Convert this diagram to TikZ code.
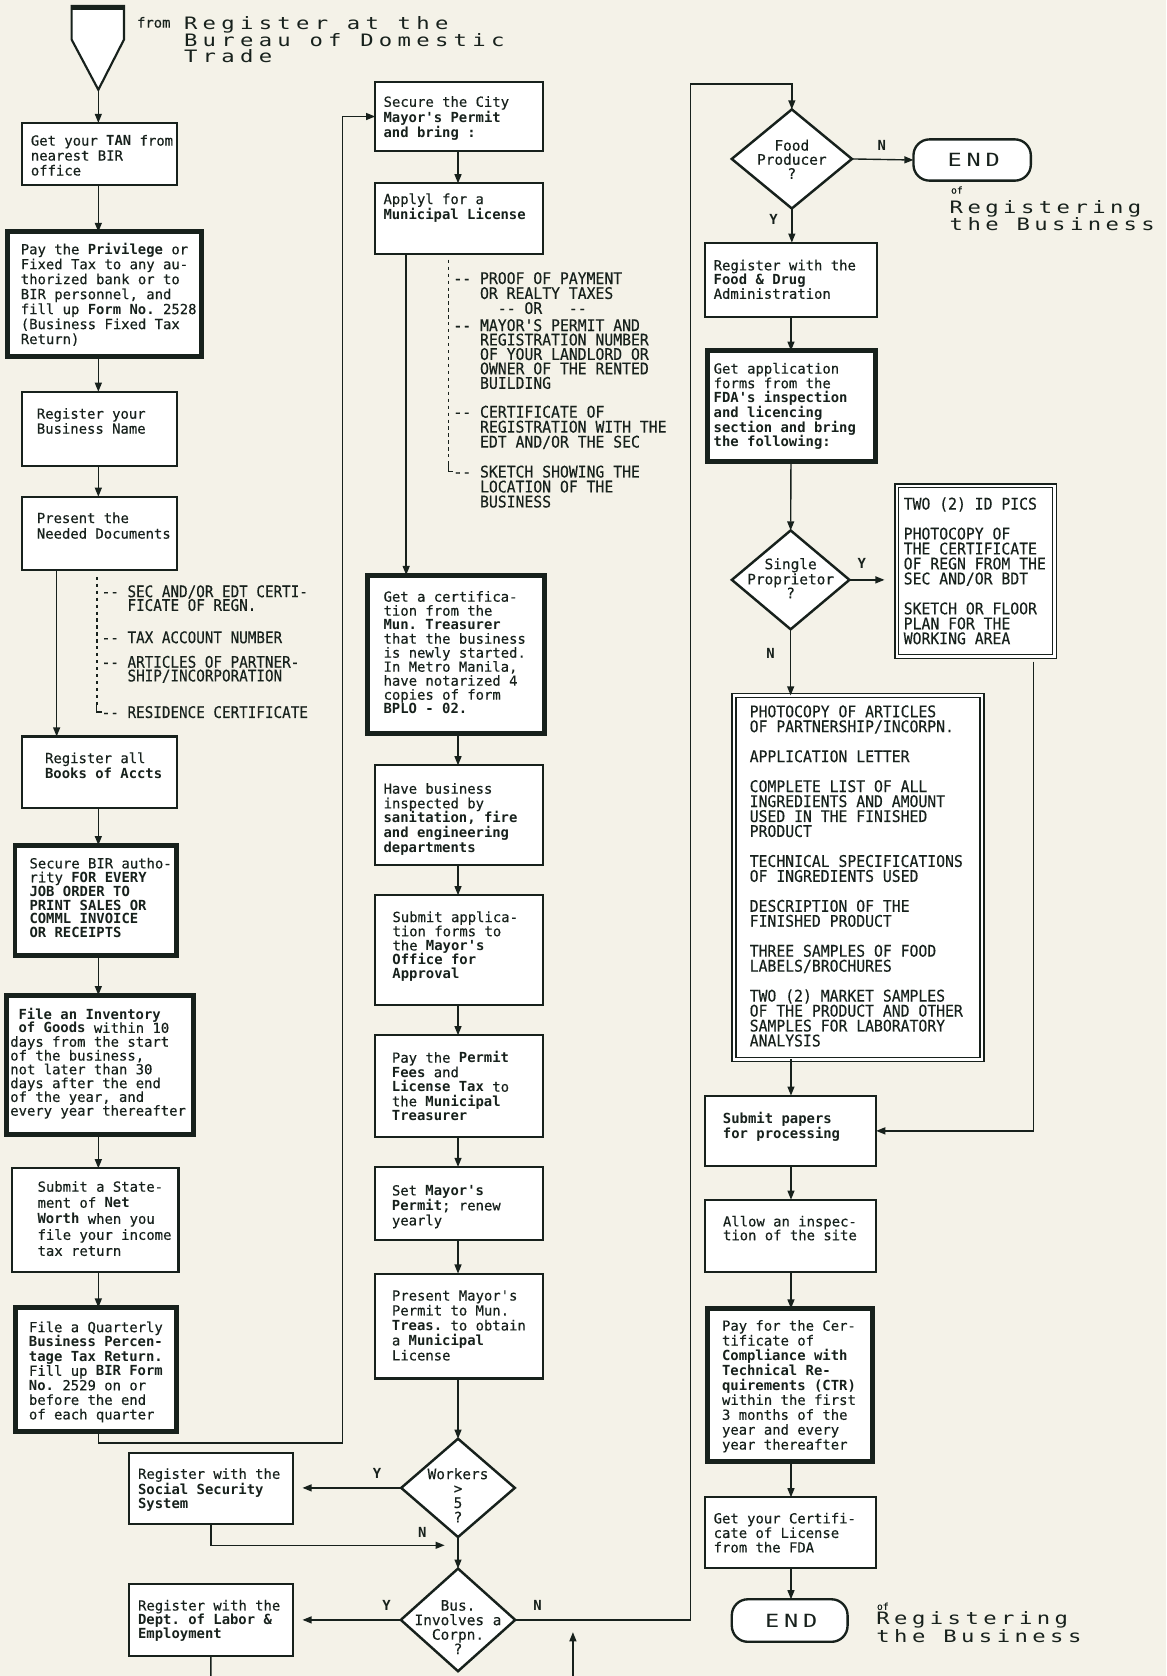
\documentclass[tikz,border=0pt]{standalone}
\usepackage{fontspec}
\setmonofont[UprightFeatures={FakeBold=0.35}]{DejaVu Sans Mono}
\newfontfamily\widef[FakeStretch=1.3,LetterSpace=31]{DejaVu Sans Mono}
\newfontfamily\wideg[FakeStretch=1.3,LetterSpace=26]{DejaVu Sans Mono}
\usetikzlibrary{arrows.meta,shapes.geometric,fit}
\definecolor{ink}{HTML}{17211C}
\definecolor{paper}{HTML}{F4F2E8}
\newcommand\dd{-\kern0pt-}
\newcommand\stra{\rule{0pt}{10pt}}
\newcommand\strb{\rule{0pt}{11.5pt}}
\newcommand\strc{\rule{0pt}{10.3pt}}
\newcommand\strw{\rule{0pt}{12.3pt}}
\newcommand\ind{\hphantom{AAA}}
\tikzset{
 bx/.style={draw=ink, fill=white, line width=2pt, inner sep=0pt, outer sep=0pt},
 tbx/.style={bx, line width=4.6pt},
 dbx/.style={draw=ink, double=white, double distance=2.4pt, line width=1.3pt, fill=white, inner sep=0pt, outer sep=0pt},
 dia/.style={diamond, draw=ink, fill=white, line width=2.3pt, inner sep=0pt, outer sep=0pt},
 term/.style={draw=ink, fill=white, line width=2.2pt, rounded corners=15pt, inner sep=0pt, outer sep=0pt},
 arr/.style={draw=ink, line width=1.3pt, -{Triangle[length=8.5pt,width=6.5pt]}},
 ln/.style={draw=ink, line width=1.3pt},
 dl/.style={draw=ink, line width=1.6pt, dash pattern=on 3pt off 3.5pt},
 tx/.style={font=\ttfamily\fontsize{13}{#1}\selectfont, text=ink, align=left, inner sep=0pt, anchor=north west},
 tx/.default=13.8,
 lstA/.style={font=\ttfamily\addfontfeatures{FakeStretch=0.89}\fontsize{15}{#1}\selectfont, text=ink, align=left, inner sep=0pt, anchor=north west},
 lstB/.style={font=\ttfamily\addfontfeatures{FakeStretch=0.92}\fontsize{15}{#1}\selectfont, text=ink, align=left, inner sep=0pt, anchor=north west},
 dtx/.style={font=\ttfamily\fontsize{13.5}{#1}\selectfont, text=ink, align=center, inner sep=0pt, anchor=north},
 wtx/.style={font=\widef\fontsize{16}{#1}\selectfont, text=ink, align=left, inner sep=0pt, anchor=north west},
 wtx/.default=14.7,
 wtg/.style={font=\wideg\fontsize{16}{#1}\selectfont, text=ink, align=left, inner sep=0pt, anchor=north west},
 endt/.style={font=\wideg\fontsize{17}{17}\selectfont, text=ink, inner sep=0pt},
 oft/.style={font=\ttfamily\fontsize{9}{9}\selectfont, text=ink, inner sep=0pt, anchor=west},
 lab/.style={font=\ttfamily\bfseries\fontsize{13}{13}\selectfont, text=ink, inner sep=0pt}
}
\begin{document}
\begin{tikzpicture}[x=1pt,y=-1pt]
\useasboundingbox (0,0) rectangle (1091,1568);
\fill[paper] (0,0) rectangle (1091,1568);

% ---------- start connector and title ----------
\draw[draw=ink, fill=white, line width=2pt, line join=miter] (67,5.6) -- (116,5.6) -- (116,37) -- (92,84) -- (67,37) -- cycle;
\draw[ink, line width=4.5pt] (66,6.8) -- (117,6.8);
\coordinate (start) at (92,84);
\node[tx, anchor=base west] (from) at (128,25.8) {from};
\node[wtx] (title) at (172,14.8) {\strw Register at the\\Bureau of Domestic\\Trade};

% ---------- left column ----------
\coordinate (lc) at (92,0);
\coordinate (c2) at (53,0);
\node[bx, fit={(20.3,115) (165.5,173)}] (b1) {};
\node[tx=14] (t1) at (28.7,126) {\stra Get your \textbf{TAN} from\\nearest BIR\\office};
\node[tbx, fit={(7,217) (188.7,333.7)}] (b2) {};
\node[tx=14] (t2) at (19.3,227.1) {\stra Pay the \textbf{Privilege} or\\Fixed Tax to any au-\\thorized bank or to\\BIR personnel, and\\fill up \textbf{Form No.} 2528\\(Business Fixed Tax\\Return)};
\node[bx, fit={(20.3,366.5) (165.3,436)}] (b3) {};
\node[tx=14] (t3) at (34.3,381.5) {\stra Register your\\Business Name};
\node[bx, fit={(20.3,464.7) (165.3,533.4)}] (b4) {};
\node[tx=14.6] (t4) at (34.3,479.1) {\stra Present the\\Needed Documents};

\draw[dl] (90.5,539.6) -- (90.5,660);
\draw[ln] (90.5,658) -- (90.5,666) -- (95,666);
\node[lstA=12.8] (l1) at (95,547) {\strb\dd\ SEC AND/OR EDT CERTI-\\\ind FICATE OF REGN.};
\node[lstA=12.8] (l2) at (95,590) {\strb\dd\ TAX ACCOUNT NUMBER};
\node[lstA=12.8] (l3) at (95,613) {\strb\dd\ ARTICLES OF PARTNER-\\\ind SHIP/INCORPORATION};
\node[lstA=12.8] (l4) at (95,660) {\strb\dd\ RESIDENCE CERTIFICATE};

\node[bx, fit={(20.3,689) (165.4,755.6)}] (b5) {};
\node[tx=14.4] (t5) at (42,703.7) {\stra Register all\\\textbf{Books of Accts}};
\node[tbx, fit={(14,790.7) (164.7,894)}] (b6) {};
\node[tx=13] (t6) at (27.4,802.2) {\stra Secure BIR autho-\\rity \textbf{FOR EVERY}\\\textbf{JOB ORDER TO}\\\textbf{PRINT SALES OR}\\\textbf{COMML INVOICE}\\\textbf{OR RECEIPTS}};
\node[tbx, fit={(6.2,931) (181,1061)}] (b7) {};
\node[tx=12.9] (t7) at (9.4,942.7) {\stra\hphantom{A}\textbf{File an Inventory}\\\hphantom{A}\textbf{of Goods} within 10\\days from the start\\of the business,\\not later than 30\\days after the end\\of the year, and\\every year thereafter};
\node[bx, fit={(11.5,1093) (167,1190)}] (b8) {};
\node[tx=15] (t8) at (35,1104.7) {\stra Submit a State-\\ment of \textbf{Net}\\\textbf{Worth} when you\\file your income\\tax return};
\node[tbx, fit={(14.3,1223.3) (165.4,1339.6)}] (b9) {};
\node[tx=13.6] (t9) at (26.9,1236.1) {\stra File a Quarterly\\\textbf{Business Percen-}\\\textbf{tage Tax Return.}\\Fill up \textbf{BIR Form}\\\textbf{No.} 2529 on or\\before the end\\of each quarter};

\draw[arr] (start) -- (start |- b1.north);
\draw[arr] (b1.south -| lc) -- (b2.north -| lc);
\draw[arr] (b2.south -| lc) -- (b3.north -| lc);
\draw[arr] (b3.south -| lc) -- (b4.north -| lc);
\draw[arr] (b4.south -| c2) -- (b5.north -| c2);
\draw[arr] (b5.south -| lc) -- (b6.north -| lc);
\draw[arr] (b6.south -| lc) -- (b7.north -| lc);
\draw[arr] (b7.south -| lc) -- (b8.north -| lc);
\draw[arr] (b8.south -| lc) -- (b9.north -| lc);

% ---------- middle column ----------
\coordinate (mc) at (428.5,0);
\coordinate (c1) at (380,0);
\node[bx, fit={(351,77) (508,141)}] (secure) {};
\node[tx=13.2] (ts) at (358.7,89.7) {\stra Secure the City\\\textbf{Mayor's Permit}\\\textbf{and bring :}};
\node[bx, fit={(351,171.5) (508,238)}] (apply) {};
\node[tx=14] (ta) at (358.6,180.7) {\stra Applyl for a\\\textbf{Municipal License}};

\draw[dl] (419.5,243) -- (419.5,435);
\draw[ln] (419.5,433) -- (419.5,441) -- (424,441);
\node[lstB=14] (m1) at (424,254) {\strb\dd\ PROOF OF PAYMENT\\\ind OR REALTY TAXES\\\ind\ \ \dd\ OR\ \ \ \dd};
\node[lstB=13.5] (m2) at (424,298) {\strb\dd\ MAYOR'S PERMIT AND\\\ind REGISTRATION NUMBER\\\ind OF YOUR LANDLORD OR\\\ind OWNER OF THE RENTED\\\ind BUILDING};
\node[lstB=14] (m3) at (424,379) {\strb\dd\ CERTIFICATE OF\\\ind REGISTRATION WITH THE\\\ind EDT AND/OR THE SEC};
\node[lstB=14] (m4) at (424,435) {\strb\dd\ SKETCH SHOWING THE\\\ind LOCATION OF THE\\\ind BUSINESS};

\node[tbx, fit={(343.6,538) (509,686)}] (getcert) {};
\node[tx=13.1] (tg) at (358.7,552.7) {\stra Get a certifica-\\tion from the\\\textbf{Mun. Treasurer}\\that the business\\is newly started.\\In Metro Manila,\\have notarized 4\\copies of form\\\textbf{BPLO - 02.}};
\node[bx, fit={(351,716) (508,809.4)}] (have) {};
\node[tx=13.7] (th) at (358.7,732.3) {\stra Have business\\inspected by\\\textbf{sanitation, fire}\\\textbf{and engineering}\\\textbf{departments}};
\node[bx, fit={(351,837.5) (508,940.4)}] (submitapp) {};
\node[tx=13.3] (tsa) at (367,852.4) {\stra Submit applica-\\tion forms to\\the \textbf{Mayor's}\\\textbf{Office for}\\\textbf{Approval}};
\node[bx, fit={(351,968.5) (508,1063.6)}] (paypermit) {};
\node[tx=13.6] (tpp) at (366.5,983.4) {\stra Pay the \textbf{Permit}\\\textbf{Fees} and\\\textbf{License Tax} to\\the \textbf{Municipal}\\\textbf{Treasurer}};
\node[bx, fit={(351,1091.7) (508,1160.3)}] (setmayor) {};
\node[tx=14] (tsm) at (366.5,1108.2) {\stra Set \textbf{Mayor's}\\\textbf{Permit}; renew\\yearly};
\node[bx, fit={(351,1191.5) (508,1289.7)}] (present) {};
\node[tx=14] (tpr) at (366.5,1206.5) {\stra Present Mayor's\\Permit to Mun.\\\textbf{Treas.} to obtain\\a \textbf{Municipal}\\License};

\node[dia, minimum width=106.3pt, minimum height=92pt] (workers) at (428.5,1392) {};
\node[dtx=13.5] (tw) at (428.5,1373.3) {\strc Workers\\>\\5\\?};
\node[bx, fit={(120.7,1359) (274,1426)}] (sss) {};
\node[tx=13.1] (tsss) at (129,1373.3) {\stra Register with the\\\textbf{Social Security}\\\textbf{System}};
\node[dia, minimum width=107pt, minimum height=96pt] (bus) at (428.5,1515.5) {};
\node[dtx=13.6] (tb) at (428.5,1496.3) {\strc Bus.\\Involves a\\Corpn.\\?};
\node[bx, fit={(120.7,1481.6) (274,1549.5)}] (dole) {};
\node[tx=13.1] (tdole) at (129,1496.5) {\stra Register with the\\\textbf{Dept. of Labor \&}\\\textbf{Employment}};

\coordinate (c3) at (320.5,1350);
\draw[arr] (b9.south -| lc) |- (c3) |- (secure.west);
\draw[arr] (secure.south -| mc) -- (apply.north -| mc);
\draw[arr] (apply.south -| c1) -- (getcert.north -| c1);
\draw[arr] (getcert.south -| mc) -- (have.north -| mc);
\draw[arr] (have.south -| mc) -- (submitapp.north -| mc);
\draw[arr] (submitapp.south -| mc) -- (paypermit.north -| mc);
\draw[arr] (paypermit.south -| mc) -- (setmayor.north -| mc);
\draw[arr] (setmayor.south -| mc) -- (present.north -| mc);
\draw[arr] (present.south -| mc) -- (workers.north);
\draw[arr, shorten >=9pt] (workers.west) -- (workers.west -| sss.east);
\coordinate (c4) at (416,1445.7);
\draw[arr] (sss.south) |- (c4);
\draw[arr] (workers.south) -- (bus.north);
\draw[arr, shorten >=9pt] (bus.west) -- (bus.west -| dole.east);
\coordinate (c5) at (197.3,1568);
\draw[ln] (dole.south) -- (c5);
\coordinate (c7) at (536,1568);
\coordinate (c8) at (536,1527);
\draw[arr] (c7) -- (c8);

\node[lab] (ly1) at (352.7,1378.6) {Y};
\node[lab] (ln1) at (395,1434) {N};
\node[lab] (ly2) at (361.7,1501.8) {Y};
\node[lab] (ln2) at (503,1501.8) {N};

% ---------- right column ----------
\coordinate (rc) at (740,0);
\node[dia, minimum width=112.4pt, minimum height=92.7pt] (food) at (740.8,148.7) {};
\node[dtx=13.2] (tf) at (740.8,130.4) {\strc Food\\Producer\\?};
\node[term, minimum width=109.8pt, minimum height=38.6pt] (end1) at (909.5,149.7) {};
\node[endt] (te1) at ([xshift=1.5pt]end1.center) {END};
\node[oft] (of1) at (889.6,177.8) {of};
\node[wtg=14.6] (reg1) at (888.3,187) {\strw Registering\\the Business};
\node[lab] (ln3) at (825,135.7) {N};
\node[lab] (ly3) at (723.6,205.3) {Y};

\node[bx, fit={(659.7,227) (820.3,296.3)}] (fda) {};
\node[tx=13.3] (tfda) at (667.5,242.7) {\stra Register with the\\\textbf{Food \& Drug}\\Administration};
\node[tbx, fit={(661.8,328.1) (818.8,432)}] (getapp) {};
\node[tx=13.7] (tga) at (667.5,339.3) {\stra Get application\\forms from the\\\textbf{FDA's inspection}\\\textbf{and licencing}\\\textbf{section and bring}\\\textbf{the following:}};

\node[dia, minimum width=110pt, minimum height=92.5pt] (single) at (739.7,542.5) {};
\node[dtx=13] (tsg) at (739.7,522) {\strc Single\\Proprietor\\?};
\node[lab] (ly4) at (806.3,527.4) {Y};
\node[lab] (ln4) at (721,611.7) {N};

\node[dbx, fit={(839,454.5) (986.3,614.3)}] (ylist) {};
\node[lstB=14] (tyl) at (845.3,465) {\strb TWO (2) ID PICS\\[14pt]PHOTOCOPY OF\\THE CERTIFICATE\\OF REGN FROM THE\\SEC AND/OR BDT\\[14pt]SKETCH OR FLOOR\\PLAN FOR THE\\WORKING AREA};

\node[dbx, fit={(686.8,650.6) (918.6,991)}] (nlist) {};
\node[lstB=14] (tnl) at (701.2,659.3) {\strb PHOTOCOPY OF ARTICLES\\OF PARTNERSHIP/INCORPN.\\[14pt]APPLICATION LETTER\\[14pt]COMPLETE LIST OF ALL\\INGREDIENTS AND AMOUNT\\USED IN THE FINISHED\\PRODUCT\\[14pt]TECHNICAL SPECIFICATIONS\\OF INGREDIENTS USED\\[14pt]DESCRIPTION OF THE\\FINISHED PRODUCT\\[14pt]THREE SAMPLES OF FOOD\\LABELS/BROCHURES\\[14pt]TWO (2) MARKET SAMPLES\\OF THE PRODUCT AND OTHER\\SAMPLES FOR LABORATORY\\ANALYSIS};

\node[bx, fit={(659.7,1025) (819.7,1091)}] (submitp) {};
\node[tx=12.8] (tsp) at (676.2,1039.9) {\stra\textbf{Submit papers}\\\textbf{for processing}};
\node[bx, fit={(659.7,1122.4) (819.7,1190.4)}] (allow) {};
\node[tx=12.9] (tal) at (676.2,1137.2) {\stra Allow an inspec-\\tion of the site};
\node[tbx, fit={(661.8,1224.2) (816.6,1367.6)}] (paycer) {};
\node[tx=13.9] (tpc) at (675.3,1234.7) {\stra Pay for the Cer-\\tificate of\\\textbf{Compliance with}\\\textbf{Technical Re-}\\\textbf{quirements (CTR)}\\within the first\\3 months of the\\year and every\\year thereafter};
\node[bx, fit={(659.7,1400.8) (819.7,1467)}] (getlic) {};
\node[tx=13.6] (tgl) at (667.5,1415) {\stra Get your Certifi-\\cate of License\\from the FDA};
\node[term, minimum width=108.3pt, minimum height=39.8pt] (end2) at (738.8,1516.1) {};
\node[endt] (te2) at ([xshift=1.5pt]end2.center) {END};
\node[oft] (of2) at (820.3,1502.8) {of};
\node[wtg=14.6] (reg2) at (819.7,1507.5) {\strw Registering\\the Business};

\coordinate (c6) at (646,78.6);
\draw[arr] (bus.east) -| (c6) -| (food.north);
\draw[arr] (food.east) -- (end1.west);
\draw[arr] (food.south) -- (fda.north -| food.south);
\draw[arr] (fda.south -| rc) -- (getapp.north -| rc);
\draw[arr] (getapp.south -| rc) -- (single.north);
\draw[arr, shorten >=11.5pt] (single.east) -- (single.east -| ylist.west);
\draw[arr] (single.south) -- (single.south |- nlist.north);
\draw[arr] (nlist.south -| rc) -- (submitp.north -| rc);
\coordinate (c9) at (967,619);
\draw[arr] (c9) |- (submitp.east);
\draw[arr] (submitp.south -| rc) -- (allow.north -| rc);
\draw[arr] (allow.south -| rc) -- (paycer.north -| rc);
\draw[arr] (paycer.south -| rc) -- (getlic.north -| rc);
\draw[arr] (getlic.south -| rc) -- (end2.north -| rc);
\end{tikzpicture}
\end{document}
